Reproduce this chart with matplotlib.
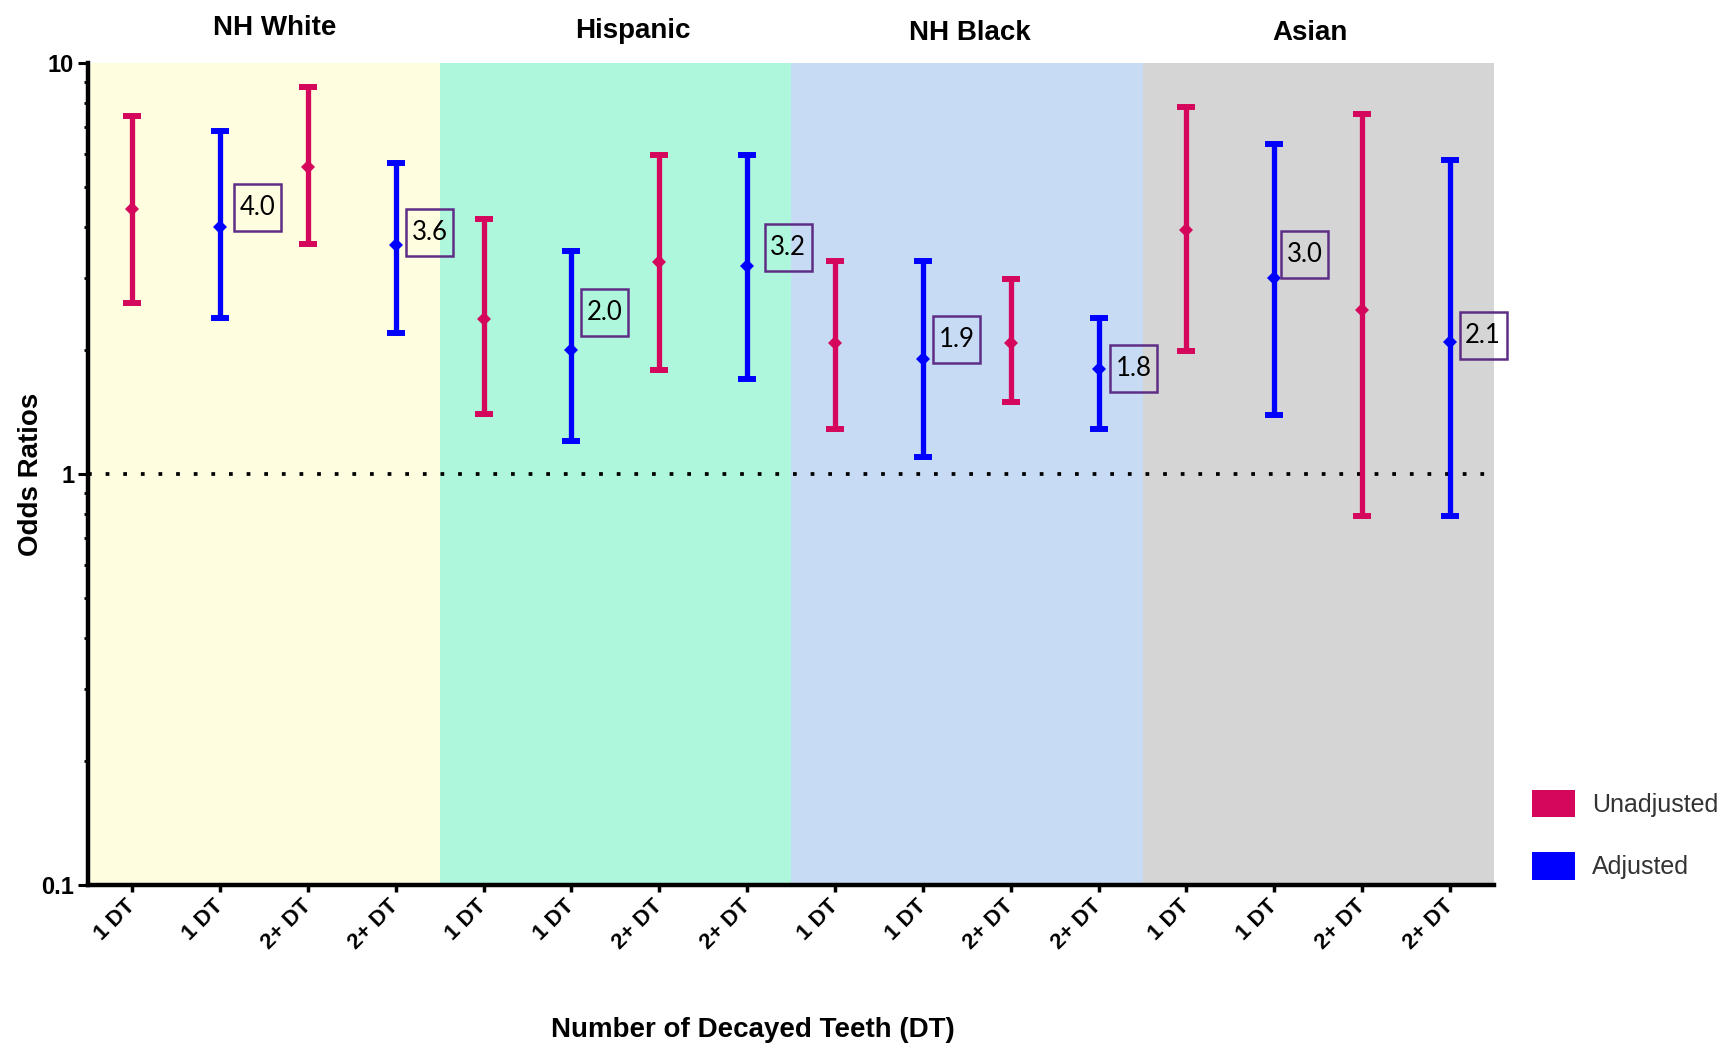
import numpy as np
import matplotlib
matplotlib.use('Agg')
from matplotlib import pyplot as plt
from matplotlib.patches import Patch, Rectangle
from matplotlib.transforms import Affine2D, ScaledTranslation
from matplotlib.ticker import LogLocator, NullFormatter, FixedLocator

groups = ['NH White', 'Hispanic', 'NH Black', 'Asian']
band_colors = ['#FEFDDF', '#AFF7DC', '#C7DCF4', '#D5D5D5']
tick_labels = ['1 DT', '1 DT', '2+ DT', '2+ DT'] * 4

# per group: [1 DT, 2+ DT]
unadj_or = [4.41, 5.60, 2.39, 3.28, 2.08, 2.08, 3.92, 2.50]
unadj_lo = [2.61, 3.62, 1.40, 1.79, 1.29, 1.50, 1.99, 0.79]
unadj_hi = [7.44, 8.73, 4.18, 5.99, 3.30, 2.99, 7.82, 7.53]

adj_or = [4.0, 3.6, 2.0, 3.2, 1.9, 1.8, 3.0, 2.1]
adj_lo = [2.40, 2.20, 1.20, 1.70, 1.10, 1.29, 1.39, 0.79]
adj_hi = [6.83, 5.71, 3.49, 5.99, 3.30, 2.40, 6.34, 5.82]

# label box centre offsets from the adjusted point, in pixels (x right, y up)
lab_dx = [38, 34, 33, 41, 34, 35, 30, 33]
lab_dy = [19, 13, 38, 19, 20, 1, 23, 6]
# small nudges of the group titles (data units, axes fraction)
title_dx = [0.12, 0.2, 0.03, -0.09]
title_y = [1.043, 1.039, 1.037, 1.037]

red = '#D5075C'
blue = '#0000FF'
purple = '#5E2D86'

fig = plt.figure(figsize=(17.27, 10.47), dpi=100)
ax = fig.add_axes([0.0510, 0.1547, 0.8141, 0.7851])

for i, c in enumerate(band_colors):
    ax.axvspan(4 * i, 4 * i + 4, color=c, lw=0, zorder=0)

ax.axhline(1, color='black', lw=2.7, linestyle=(0, (1, 3.7)), zorder=1)

xu = np.array([4 * g + k for g in range(4) for k in (0.5, 2.5)])
xa = xu + 1

def draw(x, v, lo, hi, col):
    v = np.array(v); lo = np.array(lo); hi = np.array(hi)
    ax.errorbar(x, v, yerr=[v - lo, hi - v], fmt='none', ecolor=col,
                elinewidth=3.8, capsize=6.5, capthick=4.3, zorder=3)
    ax.plot(x, v, 'D', color=col, ms=7, mew=0, zorder=4)

draw(xu, unadj_or, unadj_lo, unadj_hi, red)
draw(xa, adj_or, adj_lo, adj_hi, blue)

# boxed labels, box size in pixels
bw, bh = 47, 47
for x, v, dx, dy in zip(xa, adj_or, lab_dx, lab_dy):
    tr = Affine2D().translate(dx, dy) + ScaledTranslation(x, v, ax.transData)
    ax.add_patch(Rectangle((-bw / 2, -bh / 2), bw, bh, transform=tr,
                           fc='none', ec=purple, lw=1.8, zorder=5,
                           clip_on=False))
    ax.annotate(f'{v:.1f}', (x, v), xytext=(dx / 1.389, dy / 1.389),
                textcoords='offset points', ha='center', va='center',
                fontsize=18.5, family='Lato', zorder=5)

ax.set_yscale('log')
ax.set_ylim(0.1, 10)
ax.set_xlim(0, 16)
ax.yaxis.set_major_locator(FixedLocator([0.1, 1, 10]))
ax.set_yticklabels(['0.1', '1', '10'])
ax.yaxis.set_minor_locator(LogLocator(base=10, subs=np.arange(2, 10)))
ax.yaxis.set_minor_formatter(NullFormatter())

ax.set_xticks(np.arange(16) + 0.5)
ax.set_xticklabels(tick_labels, rotation=45, ha='right', va='center',
                   rotation_mode='anchor')

for s in ['top', 'right']:
    ax.spines[s].set_visible(False)
for s in ['left', 'bottom']:
    ax.spines[s].set_linewidth(3.2)

ax.tick_params(axis='y', which='major', length=7, width=2.2, pad=3,
               labelsize=17)
ax.tick_params(axis='y', which='minor', length=3, width=2)
ax.tick_params(axis='x', length=5, width=2.5, pad=8, labelsize=16)
for lbl in ax.get_xticklabels() + ax.get_yticklabels():
    lbl.set_fontweight('bold')
    lbl.set_family('Liberation Sans')

ax.set_ylabel('Odds Ratios', fontsize=20, fontweight='bold',
              family='Liberation Sans')
ax.yaxis.set_label_coords(-0.031, 0.5)

for i, g in enumerate(groups):
    ax.text(4 * i + 2 + title_dx[i], title_y[i], g,
            transform=ax.get_xaxis_transform(),
            ha='center', va='center', fontsize=20, fontweight='bold',
            family='Liberation Sans')

fig.text(0.436, 0.016, 'Number of Decayed Teeth (DT)', ha='center',
         va='center', fontsize=20, fontweight='bold', family='Liberation Sans')

handles = [Patch(fc=red, ec='none'), Patch(fc=blue, ec='none')]
fig.legend(handles, ['Unadjusted', 'Adjusted'], loc='upper left',
           bbox_to_anchor=(0.887, 1 - 790 / 1047), frameon=False,
           handlelength=1.74, handleheight=1.31,
           handletextpad=0.68, labelspacing=1.4, borderpad=0,
           borderaxespad=0, prop={'family': 'Liberation Sans', 'size': 18},
           labelcolor='#333333')

plt.savefig('out.png', dpi=100)
